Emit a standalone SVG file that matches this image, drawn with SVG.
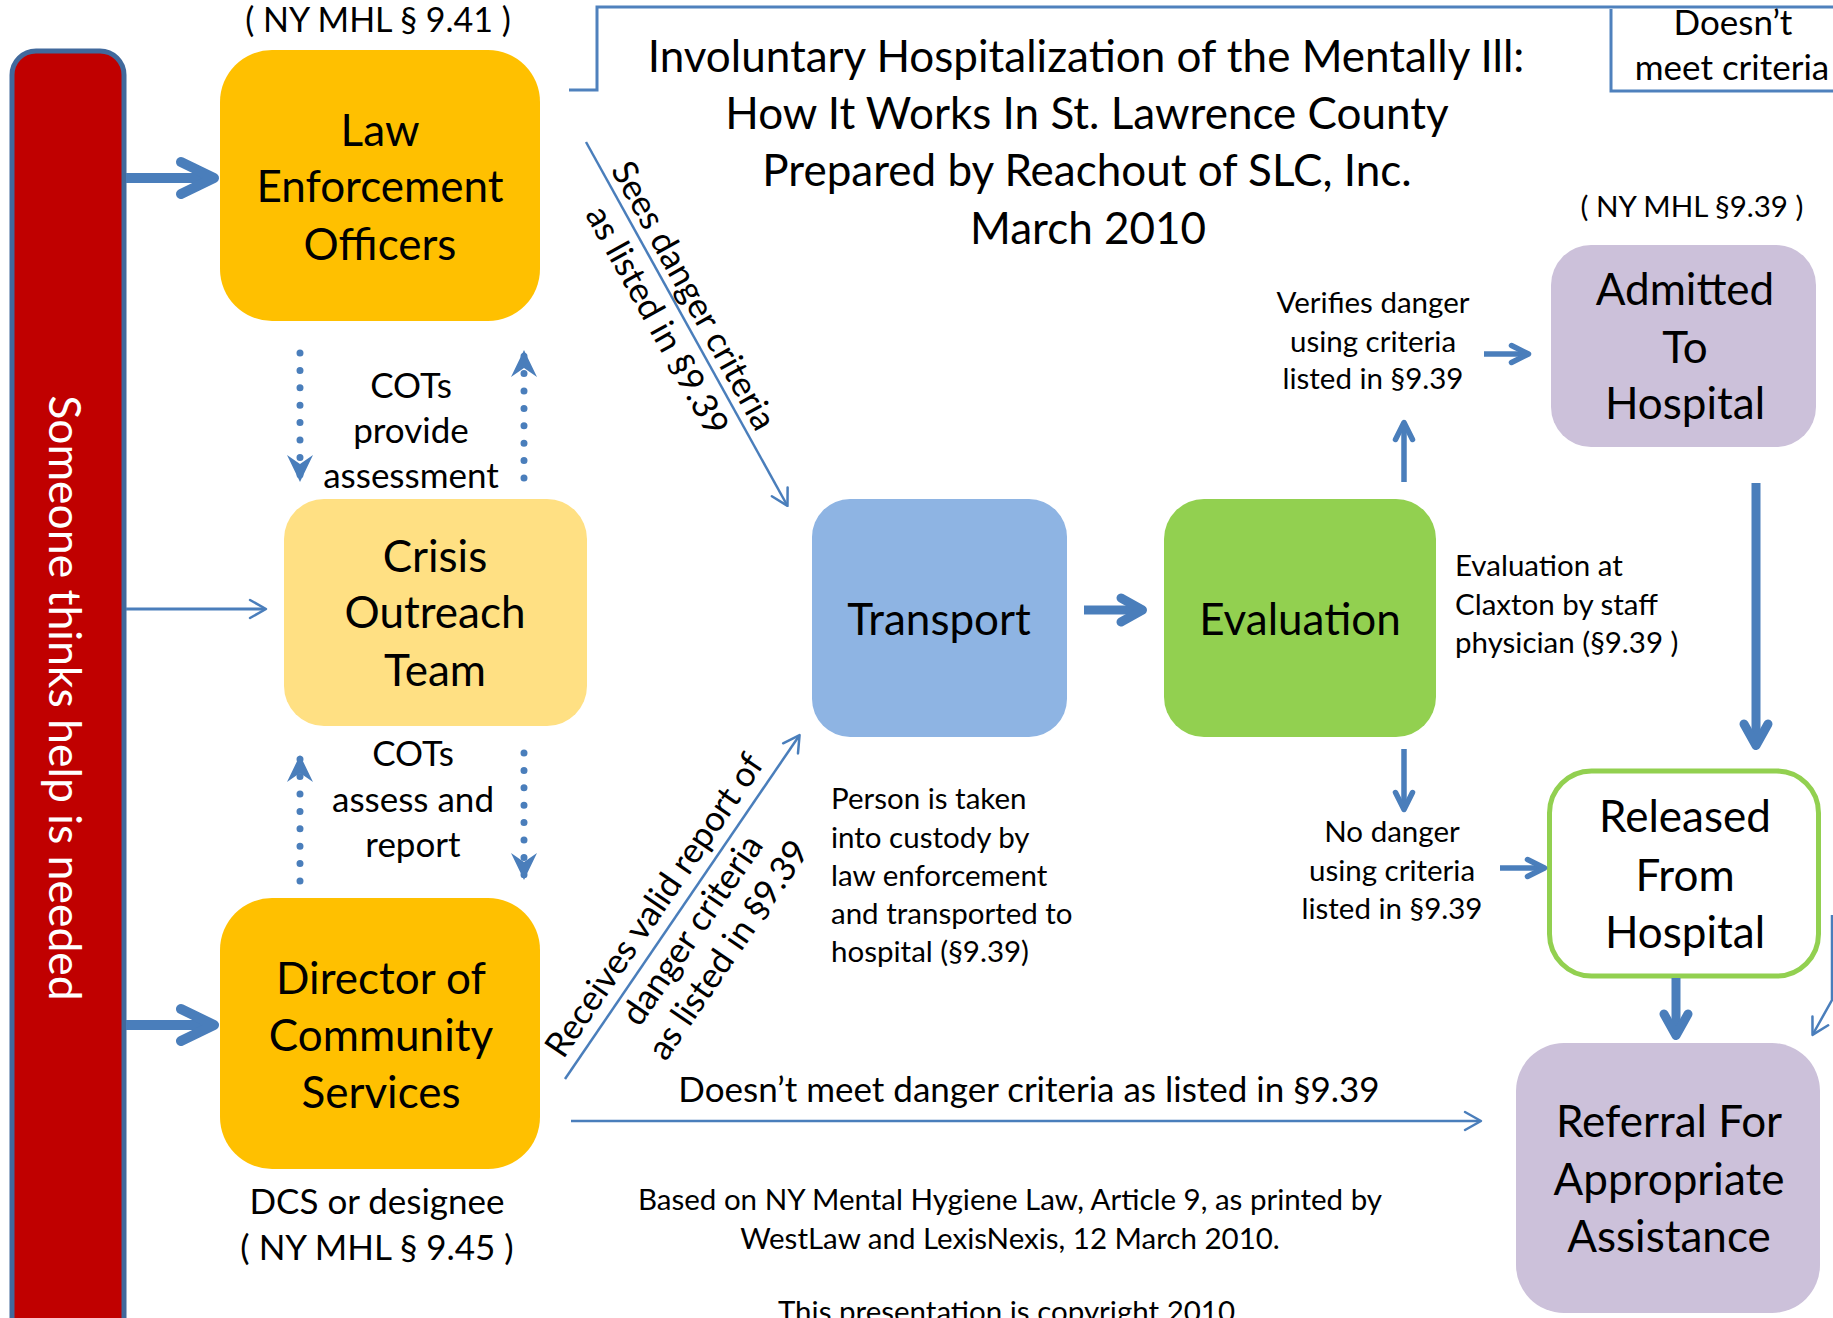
<svg xmlns="http://www.w3.org/2000/svg" width="1833" height="1318" viewBox="0 0 1833 1318">
<style>
text { font-family: Lato, "Liberation Sans", sans-serif; fill: #000; }
.nd { font-size: 44px; text-anchor: middle; }
.ttl { font-size: 44px; text-anchor: middle; }
.lbl { font-size: 35px; text-anchor: middle; }
.sm { font-size: 29.5px; }
.smc { font-size: 29.5px; text-anchor: middle; }
.ln { fill: none; stroke: #4a7ebb; }
.thick { stroke-width: 9; }
.med { stroke-width: 5.5; }
.thin { stroke-width: 2.5; }
.dot { stroke-width: 7; stroke-dasharray: 0 17.4; stroke-linecap: round; }
.frame { fill: none; stroke: #4f81bd; stroke-width: 3; }
</style>
<defs>
<marker id="chevL" markerUnits="userSpaceOnUse" orient="auto" markerWidth="1" markerHeight="1" refX="0" refY="0" style="overflow:visible">
<path d="M-28,-16 L5,0 L-28,16" fill="none" stroke="#4a7ebb" stroke-width="10" stroke-linecap="round" stroke-linejoin="round"/>
</marker>
<marker id="chevM" markerUnits="userSpaceOnUse" orient="auto" markerWidth="1" markerHeight="1" refX="0" refY="0" style="overflow:visible">
<path d="M-17,-12 L4.5,0 L-17,12" fill="none" stroke="#4a7ebb" stroke-width="9" stroke-linecap="round" stroke-linejoin="round"/>
</marker>
<marker id="chevS" markerUnits="userSpaceOnUse" orient="auto" markerWidth="1" markerHeight="1" refX="0" refY="0" style="overflow:visible">
<path d="M-14.5,-8.5 L2.5,0 L-14.5,8.5" fill="none" stroke="#4a7ebb" stroke-width="5.5" stroke-linecap="round" stroke-linejoin="round"/>
</marker>
<marker id="chevT" markerUnits="userSpaceOnUse" orient="auto" markerWidth="1" markerHeight="1" refX="0" refY="0" style="overflow:visible">
<path d="M-15,-9 L1,0 L-15,9" fill="none" stroke="#4a7ebb" stroke-width="2.5" stroke-linecap="round" stroke-linejoin="round"/>
</marker>
<marker id="stealth" markerUnits="userSpaceOnUse" orient="auto" markerWidth="1" markerHeight="1" refX="0" refY="0" style="overflow:visible">
<path d="M0,0 L-27,-13 L-18,0 L-27,13 Z" fill="#4a7ebb"/>
</marker>
</defs>

<rect width="1833" height="1318" fill="#ffffff"/>

<g id="frames">
<path class="frame" d="M569,90 H597 V7 H1840"/>
<path class="frame" d="M1840,91 H1611 V9"/>
</g>

<g id="title">
<text class="ttl" x="1086" y="72">Involuntary Hospitalization of the Mentally Ill:</text>
<text class="ttl" x="1087" y="129">How It Works In St. Lawrence County</text>
<text class="ttl" x="1087" y="186">Prepared by Reachout of SLC, Inc.</text>
<text class="ttl" x="1088" y="244">March 2010</text>
</g>

<g id="someone">
<rect x="12" y="51" width="112" height="1400" rx="24" fill="#c00000" stroke="#41699c" stroke-width="5"/>
<text transform="translate(49,698) rotate(90)" x="0" y="0" style="font-size:44.5px;text-anchor:middle;fill:#ffffff">Someone thinks help is needed</text>
</g>

<g id="law">
<text class="lbl" x="378" y="32" style="font-size:34px">( NY MHL § 9.41 )</text>
<rect x="220" y="50" width="320" height="271" rx="52" fill="#ffc000"/>
<text class="nd" x="380" y="146">Law</text>
<text class="nd" x="380" y="202">Enforcement</text>
<text class="nd" x="380" y="260">Officers</text>
</g>

<g id="crisis">
<rect x="284" y="499" width="303" height="227" rx="40" fill="#ffe083"/>
<text class="nd" x="435" y="572">Crisis</text>
<text class="nd" x="435" y="628">Outreach</text>
<text class="nd" x="435" y="686">Team</text>
</g>

<g id="dcs">
<rect x="220" y="898" width="320" height="271" rx="52" fill="#ffc000"/>
<text class="nd" x="381" y="994">Director of</text>
<text class="nd" x="381" y="1051">Community</text>
<text class="nd" x="381" y="1108">Services</text>
<text class="lbl" x="377" y="1214">DCS or designee</text>
<text class="lbl" x="377" y="1260">( NY MHL § 9.45 )</text>
</g>

<g id="transport">
<rect x="812" y="499" width="255" height="238" rx="38" fill="#8eb4e3"/>
<text class="nd" x="939" y="635">Transport</text>
</g>

<g id="evaluation">
<rect x="1164" y="499" width="272" height="238" rx="40" fill="#92d050"/>
<text class="nd" x="1300" y="635">Evaluation</text>
</g>

<g id="admitted">
<text class="smc" x="1692" y="217">( NY MHL §9.39 )</text>
<rect x="1551" y="245" width="265" height="202" rx="40" fill="#ccc1da"/>
<text class="nd" x="1685" y="305">Admitted</text>
<text class="nd" x="1685" y="363">To</text>
<text class="nd" x="1685" y="419">Hospital</text>
</g>

<g id="released">
<rect x="1549.5" y="771" width="269" height="205" rx="42" fill="#ffffff" stroke="#92d050" stroke-width="5"/>
<text class="nd" x="1685" y="832">Released</text>
<text class="nd" x="1685" y="891">From</text>
<text class="nd" x="1685" y="948">Hospital</text>
</g>

<g id="referral">
<rect x="1516" y="1043" width="304" height="270" rx="48" fill="#ccc1da"/>
<text class="nd" x="1669" y="1137">Referral For</text>
<text class="nd" x="1669" y="1195">Appropriate</text>
<text class="nd" x="1669" y="1252">Assistance</text>
</g>

<g id="connectors">
<path class="ln" style="stroke-width:10" d="M126,178 H209" marker-end="url(#chevL)"/>
<path class="ln" style="stroke-width:10" d="M126,1025 H209" marker-end="url(#chevL)"/>
<path class="ln" style="stroke-width:3" d="M126,609 H265" marker-end="url(#chevT)"/>
<path class="ln dot" d="M300,353 V482" marker-end="url(#stealth)"/>
<path class="ln dot" d="M524,478 V350" marker-end="url(#stealth)"/>
<path class="ln dot" d="M300,881 V755" marker-end="url(#stealth)"/>
<path class="ln dot" d="M524,753 V880" marker-end="url(#stealth)"/>
<path class="ln thin" d="M586,142 L787,505" marker-end="url(#chevT)"/>
<path class="ln thin" d="M565,1079 L799,736" marker-end="url(#chevT)"/>
<path class="ln thick" d="M1084,610 H1138" marker-end="url(#chevM)"/>
<path class="ln med" d="M1404,482 V425" marker-end="url(#chevS)"/>
<path class="ln med" d="M1484,354 H1526" marker-end="url(#chevS)"/>
<path class="ln med" d="M1404,749 V807" marker-end="url(#chevS)"/>
<path class="ln med" d="M1500,868 H1542" marker-end="url(#chevS)"/>
<path class="ln thick" d="M1756,483 V741" marker-end="url(#chevM)"/>
<path class="ln thick" d="M1676,978 V1031" marker-end="url(#chevM)"/>
<path class="ln thin" d="M571,1121 H1480" marker-end="url(#chevT)"/>
<path class="ln thin" d="M1832,915 V1000 L1813,1034" marker-end="url(#chevT)"/>
</g>

<g id="labels">
<text class="lbl" x="411" y="398">COTs</text>
<text class="lbl" x="411" y="443">provide</text>
<text class="lbl" x="411" y="488">assessment</text>
<text class="lbl" x="413" y="766">COTs</text>
<text class="lbl" x="413" y="812">assess and</text>
<text class="lbl" x="413" y="857">report</text>
<g transform="translate(687,324.5) rotate(61)">
<text class="lbl" x="-22" y="-8">Sees danger criteria</text>
<text class="lbl" x="-18" y="36">as listed in §9.39</text>
</g>
<g transform="translate(682.5,906.5) rotate(-55.7)">
<text class="lbl" x="-15" y="-12">Receives valid report of</text>
<text class="lbl" x="-14" y="33">danger criteria</text>
<text class="lbl" x="-10" y="74">as listed in §9.39</text>
</g>
<text class="sm" x="831" y="809">Person is taken</text>
<text class="sm" x="831" y="848">into custody by</text>
<text class="sm" x="831" y="886">law enforcement</text>
<text class="sm" x="831" y="924">and transported to</text>
<text class="sm" x="831" y="962">hospital (§9.39)</text>
<text class="smc" x="1373" y="313">Verifies danger</text>
<text class="smc" x="1373" y="352">using criteria</text>
<text class="smc" x="1373" y="389">listed in §9.39</text>
<text class="sm" x="1455" y="576">Evaluation at</text>
<text class="sm" x="1455" y="615">Claxton by staff</text>
<text class="sm" x="1455" y="653">physician (§9.39 )</text>
<text class="smc" x="1392" y="842">No danger</text>
<text class="smc" x="1392" y="881">using criteria</text>
<text class="smc" x="1392" y="919">listed in §9.39</text>
<text class="lbl" x="1029" y="1102">Doesn’t meet danger criteria as listed in §9.39</text>
<text class="lbl" x="1733" y="35">Doesn’t</text>
<text class="lbl" x="1732" y="80">meet criteria</text>
<text class="smc" x="1010" y="1210">Based on NY Mental Hygiene Law, Article 9, as printed by</text>
<text class="smc" x="1010" y="1249">WestLaw and LexisNexis, 12 March 2010.</text>
<text class="smc" x="1010" y="1322">This presentation is copyright 2010.</text>
</g>
</svg>
